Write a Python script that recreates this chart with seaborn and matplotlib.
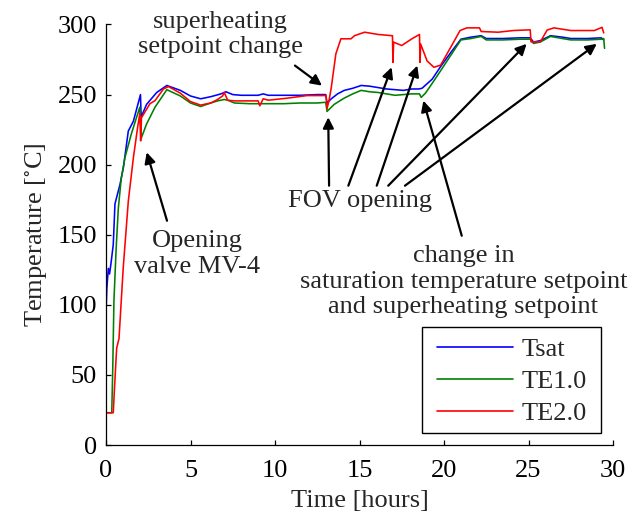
import numpy as np
import pandas as pd
import matplotlib
matplotlib.use("Agg")
import matplotlib.pyplot as plt
from matplotlib.lines import Line2D
from matplotlib.patches import Rectangle
import seaborn as sns

# ---- data ----
tsat_h = [0.0, 0.05, 0.1, 0.14, 0.21, 0.3, 0.43, 0.53, 0.83, 1.03, 1.32, 1.62, 2.04, 2.08,
          2.4, 3.0, 3.6, 4.4, 5.0, 5.6, 6.2, 6.8, 7.1, 7.5, 8.0, 9.0, 9.3, 9.6, 10.5, 11.5,
          12.5, 13.0, 13.08, 13.33, 13.7, 14.1, 14.6, 15.1, 15.6, 16.1, 16.6, 17.1, 17.6,
          18.1, 18.5, 18.7, 19.3, 19.8, 20.4, 21.0, 21.6, 22.2, 22.5, 23.5, 24.5, 25.1,
          25.3, 25.7, 26.3, 27.0, 27.5, 28.5, 29.3, 29.45]
tsat_T = [94, 112, 120, 126, 122, 130, 143, 172, 186, 198, 224, 231, 250, 234,
          243, 251.5, 256.5, 253, 249, 247, 248.5, 250.5, 252, 250, 249.5, 249.5, 250.5, 249.5, 249.5, 249.5,
          250, 250, 244, 247, 250.5, 253, 254.5, 256.5, 256, 255, 254, 253.5, 253,
          254, 254, 254.5, 261, 270, 280, 289.5, 291, 292, 290, 290, 290.5, 290.5,
          287.5, 288.5, 292, 291, 290, 290, 290.5, 289]

te1_h = [0.0, 0.34, 0.4, 0.47, 0.6, 0.73, 0.9, 1.12, 1.5, 2.0, 2.09, 2.4, 2.9, 3.6,
         4.4, 5.0, 5.6, 6.2, 6.6, 7.0, 7.2, 7.6, 8.5, 9.5, 10.5, 11.5, 12.5, 13.0, 13.08,
         13.5, 14.1, 14.6, 15.1, 15.6, 16.1, 16.6, 17.1, 17.6, 18.1, 18.55, 18.65, 18.9,
         19.3, 19.8, 20.4, 21.0, 21.6, 22.2, 22.5, 23.5, 24.5, 25.1, 25.3, 25.7, 26.3,
         27.0, 27.5, 28.5, 29.3, 29.45, 29.5]
te1_T = [23, 23, 55, 103, 140, 169, 190, 205, 222, 241, 219, 229, 241, 253.5,
         249, 244, 241.5, 244, 245.5, 246.5, 246, 244, 243.5, 243.5, 243.5, 244, 244, 244.5, 238,
         243, 247.5, 250.5, 253, 252, 251.5, 250.5, 249.5, 250, 250.5, 250.5, 248, 251,
         258, 267, 278, 289, 290, 291.5, 289, 289, 289.5, 289.5, 286.5, 287.5, 291.5,
         290, 289, 289, 289.5, 290, 283]

te2_h = [0.0, 0.43, 0.5, 0.63, 0.77, 1.02, 1.32, 1.62, 1.87, 2.0, 2.05, 2.1, 2.6, 2.9,
         3.4, 3.7, 4.4, 5.0, 5.6, 6.2, 6.6, 6.9, 7.0, 7.2, 7.6, 8.5, 9.0, 9.1, 9.3, 9.6,
         10.7, 11.9, 12.8, 13.02, 13.08, 13.2, 13.33, 13.6, 13.9, 14.5, 14.7, 15.3, 16.1,
         16.95, 16.98, 17.02, 17.5, 18.1, 18.55, 18.58, 18.62, 19.0, 19.4, 19.8, 20.4,
         20.95, 21.35, 22.1, 22.2, 23.2, 24.1, 25.1, 25.15, 25.7, 26.1, 26.5, 27.5, 28.9,
         29.35, 29.45]
te2_T = [23, 23, 40, 69, 76, 126.5, 174, 205, 226.5, 236.5, 217, 233.5, 243.5, 245.7,
         254, 255.7, 251, 245, 242.5, 244, 246.5, 249, 251.5, 246, 245.5, 245.5, 245.5, 242, 247, 246,
         247.4, 249.3, 249.3, 249.3, 240, 246, 255, 279, 289.8, 289.8, 292, 294.5, 292.9,
         292, 273, 287.4, 285, 289.8, 292.9, 273, 286, 274, 269.5, 271, 283.8,
         295.7, 297.6, 297.6, 295, 294.5, 295.7, 296.2, 287.6, 287.6, 296, 297.6, 295.7, 295.7,
         298, 294]

series_names = ["Tsat", "TE1.0", "TE2.0"]
series_colors = ["#0000ff", "#008000", "#ff0000"]

df = pd.concat([
    pd.DataFrame({"Time": tsat_h, "Temp": tsat_T, "series": "Tsat"}),
    pd.DataFrame({"Time": te1_h, "Temp": te1_T, "series": "TE1.0"}),
    pd.DataFrame({"Time": te2_h, "Temp": te2_T, "series": "TE2.0"}),
], ignore_index=True)

sns.set_style("ticks")
plt.rcParams["font.family"] = ["Liberation Serif", "DejaVu Serif"]
plt.rcParams["mathtext.fontset"] = "stix"
FS = 19

fig = plt.figure(figsize=(6.32, 5.13), dpi=100)
ax = fig.add_axes([106 / 632, 1 - 445 / 513, (613 - 106) / 632, (445 - 24.5) / 513])

sns.lineplot(data=df, x="Time", y="Temp", hue="series", hue_order=series_names,
             palette=series_colors, sort=False, estimator=None, lw=1.15, ax=ax, legend=False)

ax.set_xlim(0, 30)
ax.set_ylim(0, 300)
ax.set_xticks([0, 5, 10, 15, 20, 25, 30])
ax.set_yticks([0, 50, 100, 150, 200, 250, 300])
ax.tick_params(axis="both", direction="in", length=3.6, width=0.9, labelsize=FS, colors="black")
ax.tick_params(axis="x", pad=10.5)
ax.tick_params(axis="y", pad=6.5)
for s in ["top", "right"]:
    ax.spines[s].set_visible(False)
for s in ["left", "bottom"]:
    ax.spines[s].set_linewidth(0.9)
    ax.spines[s].set_color("black")

ax.set_xlabel("Time [hours]", fontsize=FS, labelpad=6)
ax.set_ylabel(r"Temperature [$^{\circ}$C]", fontsize=FS, labelpad=6)

# legend (content without frame) + separate frame box
handles = [Line2D([], [], color=c, lw=1.2) for c in series_colors]
leg = ax.legend(handles, series_names, loc="upper left", bbox_to_anchor=(0.652, 0.255),
                fontsize=FS, frameon=False, handlelength=2.9, handletextpad=0.32,
                labelspacing=0.32, borderpad=0.0, borderaxespad=0.0)
ax.add_patch(Rectangle((0.6233, 0.0285), 0.9763 - 0.6233, 0.2806 - 0.0285,
                       transform=ax.transAxes, fill=False, edgecolor="black", lw=1.0,
                       clip_on=False, zorder=5))

# annotations
arrow = dict(arrowstyle="-|>", color="black", lw=1.6, mutation_scale=16, shrinkA=0, shrinkB=0)

ax.annotate("", xy=(12.78, 256.4), xytext=(11.18, 270.7), arrowprops=arrow, annotation_clip=False)
ax.text(6.75, 292.9, "superheating\nsetpoint change", fontsize=FS, ha="center", va="center",
        linespacing=1.2, clip_on=False)

ax.annotate("", xy=(2.41, 208.8), xytext=(3.61, 160), arrowprops=arrow)
ax.text(5.38, 136.4, "Opening\nvalve MV-4", fontsize=FS, ha="center", va="center", linespacing=1.2)

fov_tails = [(13.2, 185), (14.34, 185), (16.02, 185), (16.7, 185), (17.69, 185)]
fov_tips = [(13.15, 233.8), (16.9, 269.5), (18.42, 270.7), (24.89, 286.2), (29.04, 286.2)]
for tail, tip in zip(fov_tails, fov_tips):
    ax.annotate("", xy=tip, xytext=tail, arrowprops=arrow)
ax.text(15.03, 174.3, "FOV opening", fontsize=FS, ha="center", va="center")

ax.annotate("", xy=(18.78, 245.7), xytext=(21.05, 149.3), arrowprops=arrow)
ax.text(21.15, 116.4, "change in\nsaturation temperature setpoint\nand superheating setpoint",
        fontsize=FS, ha="center", va="center", linespacing=1.2, clip_on=False)

fig.savefig("out.png", dpi=100)
